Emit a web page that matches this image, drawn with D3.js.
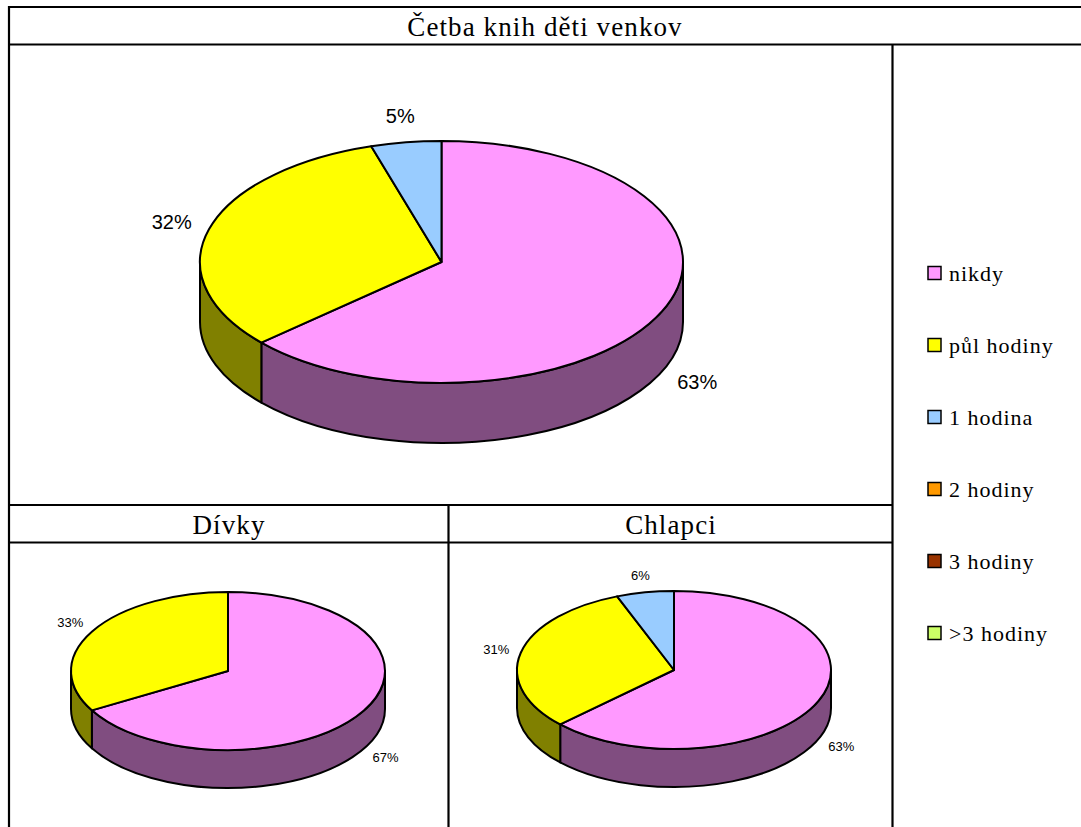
<!DOCTYPE html>
<html>
<head>
<meta charset="utf-8">
<script src="https://cdn.jsdelivr.net/npm/d3@7"></script>
<style>
  body { margin: 0; background: #fff; }
  svg { display: block; }
  .cell-title { font-family: "Liberation Serif", "Times New Roman", serif; font-size: 27px; letter-spacing: 1.1px; }
  .legend-text { font-family: "Liberation Serif", "Times New Roman", serif; font-size: 22px; letter-spacing: 1px; }
  .pct { font-family: "Liberation Sans", Arial, sans-serif; }
</style>
</head>
<body>
<svg id="canvas" width="1081" height="827"></svg>
<script>
// Chart data
const categories = ["nikdy", "půl hodiny", "1 hodina", "2 hodiny", "3 hodiny", ">3 hodiny"];
const palette = ["#FF99FF", "#FFFF00", "#99CCFF", "#FF9900", "#993300", "#CCFF66"];
const totalValues = [63.4, 31.9, 4.7, 0, 0, 0];
const girlsValues = [66.7, 33.3, 0, 0, 0, 0];
const boysValues = [62.9, 31.2, 5.9, 0, 0, 0];
const titles = ["Četba knih děti venkov", "Dívky", "Chlapci"];

const svg = d3.select("#canvas");
const color = d3.scaleOrdinal().domain(categories).range(palette);
const pie = d3.pie().sort(null).value((d) => d.value);

// Table grid
const grid = [
  [8, 7, 1081, 7],
  [8, 44.5, 1081, 44.5],
  [9, 6, 9, 827],
  [892.5, 44.5, 892.5, 827],
  [8, 505, 892.5, 505],
  [8, 542.5, 892.5, 542.5],
  [448.5, 505, 448.5, 827],
];
svg.selectAll("line.grid")
  .data(grid)
  .enter()
  .append("line")
  .attr("class", "grid")
  .attr("x1", (d) => d[0]).attr("y1", (d) => d[1])
  .attr("x2", (d) => d[2]).attr("y2", (d) => d[3])
  .attr("stroke", "#000")
  .attr("stroke-width", 2.2);

// Cell titles
const titlePos = [[545, 36], [229, 534], [671, 534]];
svg.selectAll("text.cell-title")
  .data(titles)
  .enter()
  .append("text")
  .attr("class", "cell-title")
  .attr("x", (d, i) => titlePos[i][0])
  .attr("y", (d, i) => titlePos[i][1])
  .attr("text-anchor", "middle")
  .text((d) => d);

// 3D pie
const drawPie3D = (values, cfg) => {
  const { cx, cy, rx, ry, depth, fontSize } = cfg;
  const data = categories.map((c, i) => ({ name: c, value: values[i] }));
  const total = d3.sum(values);
  const arcs = pie(data).filter((d) => d.data.value > 0);
  const pt = (a, dy = 0) => [cx + rx * Math.sin(a), cy - ry * Math.cos(a) + dy];
  const g = svg.append("g");

  // outer walls (front half only)
  arcs.forEach((d) => {
    const b0 = Math.max(d.startAngle, Math.PI / 2);
    const b1 = Math.min(d.endAngle, (3 * Math.PI) / 2);
    if (b1 <= b0) return;
    const p0 = pt(b0), p1 = pt(b1), q1 = pt(b1, depth), q0 = pt(b0, depth);
    const path = `M${p0}A${rx},${ry} 0 0 1 ${p1}L${q1}A${rx},${ry} 0 0 0 ${q0}Z`;
    const c = d3.color(color(d.data.name));
    g.append("path")
      .attr("d", path)
      .attr("fill", d3.rgb(c.r / 2, c.g / 2, c.b / 2).formatHex())
      .attr("stroke", "#000")
      .attr("stroke-width", 2)
      .attr("stroke-linejoin", "round");
  });

  // top faces
  arcs.forEach((d) => {
    const large = d.endAngle - d.startAngle > Math.PI ? 1 : 0;
    const path = `M${cx},${cy}L${pt(d.startAngle)}A${rx},${ry} 0 ${large} 1 ${pt(d.endAngle)}Z`;
    g.append("path")
      .attr("d", path)
      .attr("fill", color(d.data.name))
      .attr("stroke", "#000")
      .attr("stroke-width", 2)
      .attr("stroke-linejoin", "round");
  });

  // percentage labels
  arcs.forEach((d) => {
    const a = (d.startAngle + d.endAngle) / 2;
    const x = cx + rx * 1.16 * Math.sin(a);
    let y = cy - ry * 1.22 * Math.cos(a);
    if (Math.cos(a) < 0) y += depth;
    g.append("text")
      .attr("class", "pct")
      .attr("x", x)
      .attr("y", y)
      .attr("dy", "0.35em")
      .attr("text-anchor", "middle")
      .attr("font-size", fontSize)
      .text(Math.round((d.data.value / total) * 100) + "%");
  });
};

drawPie3D(totalValues, { cx: 441.5, cy: 262, rx: 241.5, ry: 121, depth: 60, fontSize: 20 });
drawPie3D(girlsValues, { cx: 228, cy: 671, rx: 157, ry: 79, depth: 38, fontSize: 13 });
drawPie3D(boysValues, { cx: 674, cy: 670, rx: 157, ry: 79, depth: 38, fontSize: 13 });

// Legend
const legend = svg.append("g").attr("transform", "translate(928, 273)");
const item = legend.selectAll("g")
  .data(categories)
  .enter()
  .append("g")
  .attr("transform", (d, i) => `translate(0, ${i * 72})`);

item.append("rect")
  .attr("x", 0).attr("y", -6.5)
  .attr("width", 13).attr("height", 13)
  .attr("fill", (d) => color(d))
  .attr("stroke", "#000")
  .attr("stroke-width", 1.5);

item.append("text")
  .attr("class", "legend-text")
  .attr("x", 21)
  .attr("y", 7.5)
  .text((d) => d);
</script>
</body>
</html>
